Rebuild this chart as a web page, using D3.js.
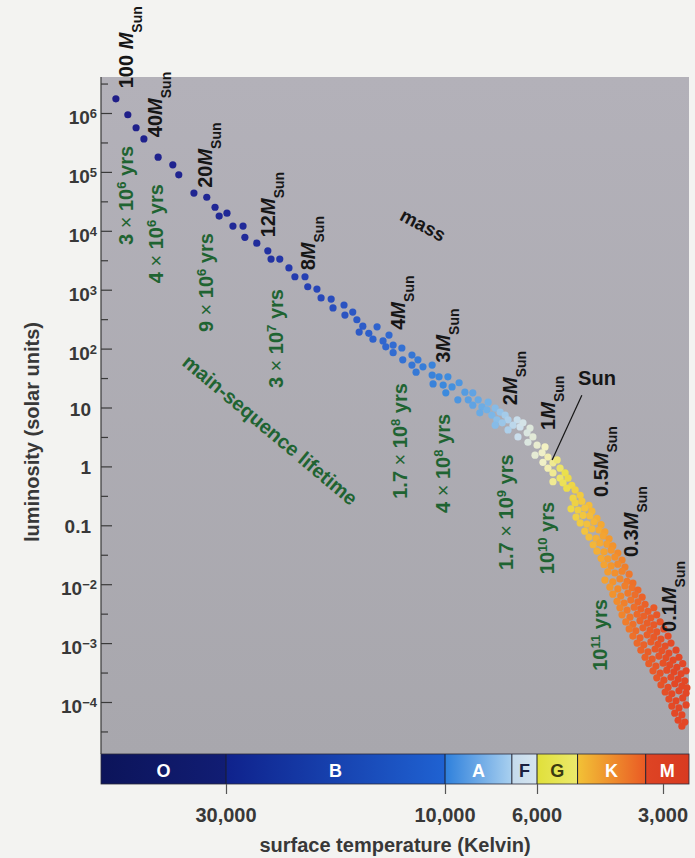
<!DOCTYPE html>
<html>
<head>
<meta charset="utf-8">
<script src="https://cdn.jsdelivr.net/npm/d3@7"></script>
<style>
  html, body { margin: 0; padding: 0; background: #f3f3f1; }
  svg { display: block; }
  text { font-family: "Liberation Sans", Arial, Helvetica, sans-serif; }
</style>
</head>
<body>
<svg id="chart" width="695" height="858"></svg>
<script>
// ---------------- data ----------------
// Temperature axis (Kelvin)
const tempTicks = [30000, 10000, 6000, 3000];
const tempTickLabels = ["30,000", "10,000", "6,000", "3,000"];

// Luminosity axis (solar units)
const lumTicks = [1e6, 1e5, 1e4, 1e3, 1e2, 10, 1, 0.1, 1e-2, 1e-3, 1e-4];
const lumTickBase = ["10", "10", "10", "10", "10", "10", "1", "0.1", "10", "10", "10"];
const lumTickExp = ["6", "5", "4", "3", "2", "", "", "", "\u22122", "\u22123", "\u22124"];
const lumMinorTicks = [10 ** 6.5, 10 ** 5.5, 10 ** 4.5, 10 ** 3.5, 10 ** 2.5, 10 ** 1.5, 10 ** 0.5,
                       10 ** -0.5, 10 ** -1.5, 10 ** -2.5, 10 ** -3.5, 10 ** -4.5];

// Spectral classes and their boundary temperatures (hot -> cool)
const spectralClasses = ["O", "B", "A", "F", "G", "K", "M"];
const classEdges = [30000, 10000, 6900, 6000, 4800, 3300];

// Main-sequence stars: [log10 Teff (K), log10 L (Lsun)]
const hotStars = [
  [4.717, 6.24], [4.691, 5.97], [4.673, 5.75], [4.656, 5.56], [4.625, 5.25], [4.593, 5.12],
  [4.580, 4.95], [4.547, 4.64], [4.519, 4.57], [4.501, 4.40], [4.492, 4.25], [4.475, 4.30],
  [4.462, 4.08], [4.440, 4.08], [4.436, 3.89], [4.410, 3.79], [4.386, 3.66], [4.379, 3.52],
  [4.360, 3.52], [4.340, 3.37], [4.327, 3.22], [4.305, 3.22], [4.299, 3.05], [4.279, 3.01],
  [4.270, 2.86], [4.248, 2.84], [4.244, 2.69], [4.220, 2.74], [4.218, 2.57], [4.201, 2.62],
  [4.192, 2.49], [4.179, 2.38], [4.187, 2.28], [4.166, 2.26], [4.148, 2.37], [4.157, 2.16],
  [4.135, 2.13], [4.122, 2.23], [4.129, 2.03], [4.113, 2.06], [4.113, 1.93], [4.094, 2.01],
  [4.092, 1.81], [4.072, 1.89], [4.072, 1.72], [4.059, 1.81], [4.063, 1.60], [4.048, 1.69],
  [4.028, 1.72], [4.028, 1.55], [4.013, 1.52], [4.026, 1.40], [4.004, 1.38]
];
const warmStars = [
  [3.993, 1.52], [3.983, 1.35], [3.966, 1.42], [3.969, 1.13], [3.998, 1.25], [3.952, 1.26],
  [3.933, 1.25], [3.944, 1.13], [3.920, 1.13], [3.933, 1.04], [3.911, 1.01], [3.896, 1.09],
  [3.899, 0.96], [3.916, 0.91], [3.879, 0.99], [3.887, 0.87], [3.867, 0.92], [3.875, 0.79],
  [3.855, 0.87], [3.848, 0.79], [3.862, 0.74], [3.879, 0.70], [3.826, 0.79], [3.836, 0.70],
  [3.819, 0.67], [3.848, 0.62], [3.812, 0.74], [3.795, 0.65], [3.802, 0.57], [3.788, 0.50],
  [3.824, 0.50], [3.800, 0.41], [3.778, 0.36], [3.759, 0.33], [3.766, 0.23], [3.783, 0.19],
  [3.752, 0.16], [3.764, 0.07], [3.740, 0.06], [3.752, -0.03], [3.730, 0.11], [3.723, -0.03],
  [3.740, -0.11], [3.711, -0.11], [3.723, -0.20], [3.704, -0.20], [3.740, -0.26], [3.716, -0.28],
  [3.695, -0.32], [3.687, -0.40], [3.707, -0.37], [3.675, -0.49], [3.692, -0.54]
];
const coolStars = [
  [3.687, -0.62], [3.671, -0.59], [3.654, -0.66],
  [3.697, -0.72], [3.680, -0.74], [3.664, -0.71], [3.647, -0.76],
  [3.685, -0.86], [3.668, -0.83], [3.652, -0.84], [3.635, -0.88],
  [3.675, -0.96], [3.659, -0.98], [3.642, -0.94], [3.625, -0.99],
  [3.664, -1.10], [3.647, -1.06], [3.630, -1.08], [3.616, -1.11],
  [3.654, -1.20], [3.637, -1.22], [3.620, -1.18], [3.606, -1.23],
  [3.644, -1.33], [3.628, -1.30], [3.611, -1.32], [3.597, -1.35],
  [3.635, -1.44], [3.618, -1.45], [3.601, -1.42], [3.585, -1.47],
  [3.625, -1.56], [3.609, -1.57], [3.592, -1.54], [3.575, -1.59],
  [3.618, -1.67], [3.601, -1.69], [3.585, -1.66], [3.568, -1.71],
  [3.609, -1.79], [3.592, -1.81], [3.575, -1.78], [3.558, -1.83],
  [3.616, -1.93], [3.597, -1.96], [3.580, -1.91], [3.563, -1.95], [3.549, -1.98],
  [3.604, -2.05], [3.585, -2.08], [3.568, -2.03], [3.551, -2.06], [3.537, -2.10],
  [3.597, -2.17], [3.578, -2.20], [3.561, -2.15], [3.544, -2.18], [3.527, -2.22],
  [3.587, -2.29], [3.570, -2.32], [3.554, -2.27], [3.537, -2.30], [3.520, -2.34],
  [3.580, -2.40], [3.563, -2.44], [3.546, -2.39], [3.530, -2.42], [3.513, -2.46], [3.499, -2.40],
  [3.575, -2.52], [3.556, -2.56], [3.539, -2.51], [3.523, -2.54], [3.506, -2.57], [3.492, -2.52],
  [3.566, -2.64], [3.549, -2.68], [3.532, -2.62], [3.515, -2.66], [3.499, -2.69], [3.484, -2.64],
  [3.558, -2.76], [3.542, -2.79], [3.525, -2.74], [3.508, -2.78], [3.492, -2.81], [3.475, -2.76],
  [3.549, -2.88], [3.532, -2.91], [3.515, -2.86], [3.499, -2.90], [3.482, -2.93], [3.465, -2.88],
  [3.539, -3.00], [3.523, -3.03], [3.506, -2.98], [3.489, -3.02], [3.472, -3.05], [3.458, -3.00],
  [3.530, -3.12], [3.513, -3.15], [3.496, -3.10], [3.480, -3.13], [3.463, -3.17], [3.446, -3.12],
  [3.520, -3.24], [3.503, -3.27], [3.487, -3.22], [3.470, -3.25], [3.453, -3.29], [3.439, -3.24],
  [3.511, -3.35], [3.494, -3.39], [3.477, -3.34], [3.461, -3.37], [3.444, -3.41], [3.430, -3.35],
  [3.501, -3.47], [3.484, -3.51], [3.468, -3.46], [3.451, -3.49], [3.434, -3.52], [3.422, -3.47],
  [3.492, -3.59], [3.475, -3.63], [3.458, -3.58], [3.441, -3.61], [3.425, -3.64],
  [3.482, -3.71], [3.465, -3.75], [3.449, -3.69], [3.432, -3.73], [3.420, -3.76],
  [3.472, -3.83], [3.456, -3.86], [3.439, -3.81], [3.422, -3.85],
  [3.463, -3.95], [3.446, -3.98], [3.430, -3.93],
  [3.456, -4.07], [3.439, -4.10], [3.422, -4.05],
  [3.449, -4.19], [3.432, -4.22],
  [3.441, -4.31], [3.425, -4.34],
  [3.432, -4.41]
];

// Stellar mass labels along the sequence (label anchor in log T, log L)
const massValues = ["100", "40", "20", "12", "8", "4", "3", "2", "1", "0.5", "0.3", "0.1"];
const massLabelLogT = [4.680, 4.617, 4.508, 4.370, 4.283, 4.087, 3.988, 3.826, 3.735, 3.609, 3.537, 3.446];
const massLabelLogL = [6.42, 5.59, 4.73, 3.89, 3.33, 2.32, 1.76, 1.04, 0.62, -0.52, -1.54, -2.81];

// Main-sequence lifetimes: mantissa x 10^exponent years
const lifetimeMantissa = ["3", "4", "9", "3", "1.7", "4", "1.7", "", ""];
const lifetimeExponent = ["6", "6", "6", "7", "8", "8", "9", "10", "11"];
const lifetimeLogT = [4.680, 4.614, 4.505, 4.353, 4.083, 3.988, 3.836, 3.738, 3.611];
const lifetimeLogL = [3.76, 3.11, 2.28, 1.33, -0.55, -0.79, -1.76, -1.83, -3.47];

// The Sun callout: label anchor and the star it points to
const sunLabel = [3.680, 1.38];
const sunLineStart = [3.671, 1.21];
const sunStar = [3.742, 0.11];

// ---------------- layout ----------------
const svg = d3.select("#chart");
const plot = { left: 101, right: 689, top: 77, bottom: 754 };
const bar = { top: 754, bottom: 784 };
const green = "#1f6432";
const ink = "#161616";

// Temperature runs hot -> cool from left to right (piecewise log)
const x = d3.scaleLog().domain(tempTicks).range([226, 445, 537, 663]);
const y = d3.scaleLog().domain([1e6, 1e-4]).range([113, 702]);
const px = lt => x(10 ** lt);
const py = ll => y(10 ** ll);

// Star colour by surface temperature
const dotColor = d3.scaleLog()
  .domain([52000, 26000, 20000, 14000, 10000, 7800, 6600, 5750, 5150, 4500, 4000, 3400, 2800])
  .range(["#1f1e88", "#202b9a", "#2641b4", "#2f63cd", "#3b89dd", "#76b3e6", "#d0e1ec",
          "#f3f1c4", "#ebe04c", "#f3bd3c", "#f3972e", "#eb652a", "#e34726"])
  .interpolate(d3.interpolateRgb)
  .clamp(true);

const defs = svg.append("defs");
const bg = defs.append("linearGradient").attr("id", "plotBg")
  .attr("x1", 0).attr("y1", 0).attr("x2", 0).attr("y2", 1);
bg.append("stop").attr("offset", "0%").attr("stop-color", "#b3b1b9");
bg.append("stop").attr("offset", "100%").attr("stop-color", "#a8a7ad");

// Plot background
svg.append("rect")
  .attr("x", plot.left).attr("y", plot.top)
  .attr("width", plot.right - plot.left).attr("height", plot.bottom - plot.top)
  .attr("fill", "url(#plotBg)");

// ---------------- spectral class bar ----------------
const classColors = [
  ["#0c145a", "#111d74"],
  ["#0f228c", "#1f62d2"],
  ["#2e80dc", "#a9d0ef"],
  ["#c4daec", "#d6e5f0"],
  ["#e0e03a", "#ece96c"],
  ["#f2c236", "#ea5a24"],
  ["#de4424", "#d83a20"]
];
const classLabelColors = ["#fff", "#fff", "#fff", "#1a2040", "#3a3a10", "#fff", "#fff"];
const segStart = i => (i === 0 ? plot.left : x(classEdges[i - 1]));
const segEnd = i => (i === spectralClasses.length - 1 ? plot.right : x(classEdges[i]));

spectralClasses.forEach((c, i) => {
  const g = defs.append("linearGradient").attr("id", "cls" + c)
    .attr("gradientUnits", "userSpaceOnUse")
    .attr("x1", segStart(i)).attr("x2", segEnd(i)).attr("y1", 0).attr("y2", 0);
  g.append("stop").attr("offset", "0%").attr("stop-color", classColors[i][0]);
  g.append("stop").attr("offset", "100%").attr("stop-color", classColors[i][1]);
});

const barG = svg.append("g");
barG.selectAll("rect.seg").data(spectralClasses).join("rect")
  .attr("class", "seg")
  .attr("x", (c, i) => segStart(i)).attr("y", bar.top)
  .attr("width", (c, i) => segEnd(i) - segStart(i)).attr("height", bar.bottom - bar.top)
  .attr("fill", c => "url(#cls" + c + ")");
barG.selectAll("line.edge").data(classEdges).join("line")
  .attr("class", "edge")
  .attr("x1", d => x(d)).attr("x2", d => x(d))
  .attr("y1", bar.top).attr("y2", bar.bottom)
  .attr("stroke", "#1a1c2c").attr("stroke-width", 1);
barG.append("rect")
  .attr("x", plot.left).attr("y", bar.top)
  .attr("width", plot.right - plot.left).attr("height", bar.bottom - bar.top)
  .attr("fill", "none").attr("stroke", "#2a2a3a").attr("stroke-width", 0.8);
barG.selectAll("text").data(spectralClasses).join("text")
  .attr("x", (c, i) => (segStart(i) + segEnd(i)) / 2)
  .attr("y", bar.top + 23)
  .attr("text-anchor", "middle")
  .attr("font-size", 18).attr("font-weight", "bold")
  .attr("fill", (c, i) => classLabelColors[i])
  .text(c => c);

// ---------------- axes ----------------
const xAxis = d3.axisBottom(x).tickValues(tempTicks).tickSize(10).tickFormat("");
svg.append("g").attr("transform", `translate(0,${bar.bottom})`).call(xAxis)
  .call(g => g.select(".domain").remove())
  .call(g => g.selectAll(".tick line").attr("stroke", "#555").attr("stroke-width", 1.2));
svg.append("g").selectAll("text").data(tempTicks).join("text")
  .attr("x", d => x(d)).attr("y", 822)
  .attr("text-anchor", "middle")
  .attr("font-size", 20).attr("font-weight", "bold").attr("fill", "#383838")
  .text((d, i) => tempTickLabels[i]);
svg.append("text")
  .attr("x", 395).attr("y", 852)
  .attr("text-anchor", "middle")
  .attr("font-size", 20).attr("font-weight", "bold").attr("fill", "#383838")
  .text("surface temperature (Kelvin)");

// Luminosity axis: ticks point into the plot from the left edge
const yAxisMajor = d3.axisLeft(y).tickValues(lumTicks).tickSize(-11).tickFormat("");
const yAxisMinor = d3.axisLeft(y).tickValues(lumMinorTicks).tickSize(-7).tickFormat("");
svg.append("g").attr("transform", `translate(${plot.left},0)`).call(yAxisMinor)
  .call(g => g.select(".domain").remove())
  .call(g => g.selectAll(".tick line").attr("stroke", "#3a3a3a").attr("stroke-width", 1.2));
svg.append("g").attr("transform", `translate(${plot.left},0)`).call(yAxisMajor)
  .call(g => g.select(".domain").remove())
  .call(g => g.selectAll(".tick line").attr("stroke", "#3a3a3a").attr("stroke-width", 1.2));
svg.append("line")
  .attr("x1", plot.left).attr("x2", plot.left)
  .attr("y1", plot.top).attr("y2", plot.bottom)
  .attr("stroke", "#3a3a3a").attr("stroke-width", 1.2);

const yLabels = svg.append("g");
lumTicks.forEach((v, i) => {
  const hasExp = lumTickExp[i] !== "";
  const t = yLabels.append("text")
    .attr("x", hasExp ? 97 : 91)
    .attr("y", y(v) + (hasExp ? 11 : 8))
    .attr("text-anchor", "end")
    .attr("font-size", 19).attr("font-weight", "bold").attr("fill", "#383838");
  t.append("tspan").text(lumTickBase[i]);
  if (hasExp) t.append("tspan").attr("font-size", 13).attr("dy", -6).text(lumTickExp[i]);
});
svg.append("text")
  .attr("transform", "translate(39,432) rotate(-90)")
  .attr("text-anchor", "middle")
  .attr("font-size", 20).attr("font-weight", "bold").attr("fill", "#383838")
  .text("luminosity (solar units)");

// ---------------- stars ----------------
const allStars = hotStars.concat(warmStars, coolStars);
svg.append("g").selectAll("circle").data(allStars).join("circle")
  .attr("cx", d => px(d[0])).attr("cy", d => py(d[1]))
  .attr("r", 3.6)
  .attr("fill", d => dotColor(10 ** d[0]));

// ---------------- annotations ----------------
const ann = svg.append("g");

// Mass labels, reading upward
massValues.forEach((m, i) => {
  const t = ann.append("text")
    .attr("transform", `translate(${px(massLabelLogT[i])},${py(massLabelLogL[i])}) rotate(-90)`)
    .attr("font-size", 20).attr("font-weight", "bold").attr("fill", ink);
  t.append("tspan").text(m === "100" ? m + " " : m);
  t.append("tspan").attr("font-style", "italic").text("M");
  t.append("tspan").attr("font-size", 14).attr("dy", 9).text("Sun");
});

// Lifetime labels, reading upward
lifetimeExponent.forEach((e, i) => {
  const t = ann.append("text")
    .attr("transform", `translate(${px(lifetimeLogT[i])},${py(lifetimeLogL[i])}) rotate(-90)`)
    .attr("font-size", 20).attr("font-weight", "bold").attr("fill", green);
  const mant = lifetimeMantissa[i];
  if (mant) {
    t.append("tspan").text(mant + " ");
    t.append("tspan").attr("font-weight", "normal").text("\u00d7");
    t.append("tspan").text(" 10");
  } else {
    t.append("tspan").text("10");
  }
  t.append("tspan").attr("font-size", 13).attr("dy", -7).text(e);
  t.append("tspan").attr("dy", 7).text(" yrs");
});

// Axis-direction captions inside the plot
ann.append("text")
  .attr("transform", `translate(${px(4.048)},${py(4.10)}) rotate(28)`)
  .attr("text-anchor", "middle").attr("dy", "0.35em")
  .attr("font-size", 19).attr("font-weight", "bold").attr("fill", ink)
  .text("mass");
ann.append("text")
  .attr("transform", `translate(${px(4.381)},${py(0.62)}) rotate(40)`)
  .attr("text-anchor", "middle").attr("dy", "0.35em")
  .attr("font-size", 20).attr("font-weight", "bold").attr("fill", green)
  .text("main-sequence lifetime");

// The Sun
ann.append("line")
  .attr("x1", px(sunLineStart[0])).attr("y1", py(sunLineStart[1]))
  .attr("x2", px(sunStar[0])).attr("y2", py(sunStar[1]))
  .attr("stroke", ink).attr("stroke-width", 1.2);
ann.append("text")
  .attr("x", px(sunLabel[0])).attr("y", py(sunLabel[1]))
  .attr("font-size", 20).attr("font-weight", "bold").attr("fill", ink)
  .text("Sun");
</script>
</body>
</html>
